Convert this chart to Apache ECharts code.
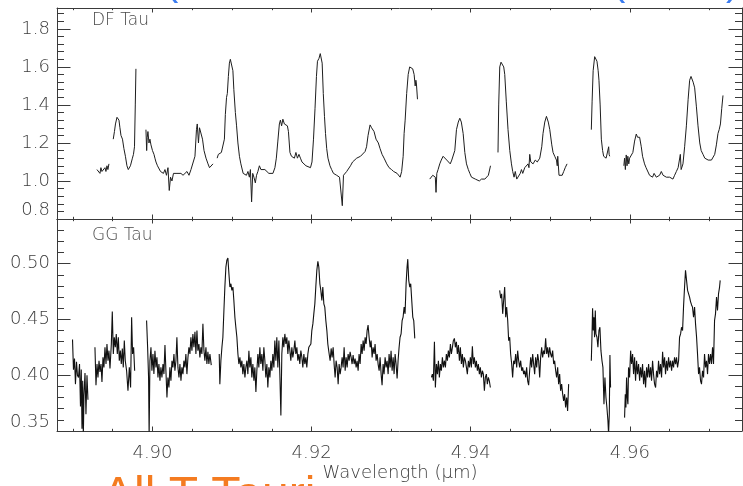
<!DOCTYPE html>
<html><head><meta charset="utf-8">
<script src="https://cdn.jsdelivr.net/npm/echarts@6/dist/echarts.min.js"></script>
<style>html,body{margin:0;padding:0;background:#fff}#c{width:743px;height:486px}</style>
</head><body><div id="c"></div>
<script>
// ---- axis ranges and tick values ----
const X_MIN = 4.888, X_MAX = 4.9741;
const X_MAJOR = [4.90, 4.92, 4.94, 4.96];
const X_MINOR = [4.89, 4.895, 4.905, 4.91, 4.915, 4.925, 4.93, 4.935, 4.945, 4.95, 4.955, 4.965, 4.97];
const TOP_MIN = 0.8, TOP_MAX = 1.91;
const TOP_MAJOR = [0.8, 1.0, 1.2, 1.4, 1.6, 1.8];
const TOP_MINOR = [0.84,0.88,0.92,0.96,1.04,1.08,1.12,1.16,1.24,1.28,1.32,1.36,1.44,1.48,1.52,1.56,1.64,1.68,1.72,1.76,1.84,1.88];
const BOT_MIN = 0.35, BOT_MAX = 0.54;
const BOT_MAJOR = [0.35, 0.40, 0.45, 0.50];
const BOT_MINOR = [0.36,0.37,0.38,0.39,0.41,0.42,0.43,0.44,0.46,0.47,0.48,0.49,0.51,0.52,0.53];

// ---- DF Tau spectrum segments [wavelength (um), flux] ----
const dfSeg1 = [[4.89302,1.06],[4.89315,1.05],[4.89327,1.07],[4.8934,1.04],[4.89352,1.07],[4.89365,1.05],[4.89377,1.06],[4.8939,1.04],[4.89403,1.07],[4.89415,1.05],[4.89428,1.08],[4.8944,1.06],[4.89453,1.09]];
const dfSeg2 = [[4.89507,1.22],[4.89522,1.26],[4.89535,1.30],[4.89554,1.335],[4.89566,1.34],[4.89579,1.32],[4.89591,1.28],[4.89604,1.24],[4.89623,1.22],[4.89641,1.17],[4.8966,1.13],[4.89679,1.08],[4.89696,1.06],[4.89711,1.05],[4.89723,1.08],[4.89736,1.07],[4.89748,1.12],[4.89761,1.14],[4.89774,1.18],[4.89784,1.40],[4.89792,1.59]];
const dfSeg3 = [[4.89918,1.27],[4.89927,1.16],[4.89934,1.23],[4.89943,1.26],[4.89956,1.20],[4.89968,1.22],[4.89981,1.19],[4.9,1.16],[4.90019,1.14],[4.90031,1.12],[4.90044,1.10],[4.90063,1.08],[4.90082,1.07],[4.90101,1.05],[4.90119,1.05],[4.90138,1.04],[4.90157,1.06],[4.90176,1.03],[4.90195,1.07],[4.90211,0.95],[4.90227,1.02],[4.90245,1.00],[4.90264,1.04],[4.90283,1.03],[4.90308,1.04],[4.90333,1.03],[4.90358,1.04],[4.90384,1.03],[4.90409,1.04],[4.90434,1.05],[4.90459,1.03],[4.90484,1.06],[4.90509,1.05],[4.90534,1.13],[4.90553,1.27],[4.90563,1.30],[4.90578,1.20],[4.90591,1.28],[4.9061,1.27],[4.90629,1.22],[4.90648,1.16],[4.90673,1.12],[4.90698,1.09],[4.90717,1.07],[4.90732,1.08],[4.90742,1.06],[4.90761,1.09]];
const dfSeg4 = [[4.90813,1.12],[4.90828,1.14],[4.90847,1.13],[4.90866,1.15],[4.90889,1.16],[4.90904,1.22],[4.90916,1.35],[4.90931,1.44],[4.90941,1.46],[4.90954,1.55],[4.90967,1.62],[4.90979,1.64],[4.90998,1.635],[4.91011,1.58],[4.91023,1.48],[4.91042,1.36],[4.91057,1.29],[4.91074,1.20],[4.91093,1.13],[4.91111,1.09],[4.9114,1.04],[4.91162,1.05],[4.91181,1.03],[4.912,1.05],[4.91218,1.02],[4.91231,1.06],[4.91246,0.89],[4.9126,1.04],[4.91275,1.02],[4.91293,0.99],[4.91308,1.03],[4.91325,1.05],[4.91344,1.08],[4.91363,1.06],[4.91388,1.05],[4.91413,1.06],[4.91438,1.05],[4.91463,1.04],[4.91488,1.05],[4.91514,1.04],[4.91539,1.07],[4.91557,1.12],[4.91576,1.21],[4.91595,1.30],[4.91608,1.32],[4.91623,1.29],[4.91639,1.325],[4.91658,1.30],[4.91677,1.31],[4.91696,1.29],[4.91709,1.26],[4.91728,1.15],[4.91747,1.13],[4.91765,1.14],[4.91784,1.12],[4.91803,1.15],[4.91822,1.12],[4.91841,1.14],[4.9186,1.12],[4.91879,1.10],[4.91904,1.09],[4.91929,1.08],[4.91954,1.07],[4.91986,1.07],[4.92005,1.10],[4.92024,1.22],[4.92043,1.38],[4.92061,1.55],[4.92074,1.63],[4.92093,1.645],[4.92109,1.67],[4.92121,1.675],[4.92133,1.62],[4.92147,1.46],[4.92162,1.34],[4.92175,1.25],[4.9219,1.17],[4.92206,1.12],[4.92231,1.08],[4.92252,1.06],[4.92275,1.04],[4.92294,1.05],[4.92315,1.03],[4.92332,1.04],[4.92351,1.02],[4.9237,1.03],[4.92386,0.87],[4.92401,1.03],[4.9242,1.02],[4.92441,1.05],[4.92464,1.06],[4.92489,1.08],[4.92515,1.10],[4.9254,1.09],[4.92567,1.12],[4.9259,1.11],[4.92615,1.13],[4.9264,1.14],[4.92672,1.155],[4.92691,1.18],[4.9271,1.24],[4.92735,1.295],[4.92754,1.28],[4.92769,1.29],[4.92785,1.26],[4.9281,1.22],[4.92839,1.20],[4.92861,1.17],[4.92886,1.14],[4.92911,1.12],[4.92945,1.09],[4.92974,1.07],[4.93005,1.06],[4.93031,1.05],[4.9305,1.05],[4.93075,1.04],[4.93094,1.03],[4.93113,1.02],[4.93132,1.05],[4.93151,1.13],[4.93163,1.25],[4.93176,1.32],[4.93195,1.46],[4.93214,1.56],[4.93233,1.60],[4.93251,1.61],[4.93271,1.59],[4.93289,1.56],[4.93302,1.50],[4.93311,1.53],[4.93318,1.51],[4.93331,1.43]];
const dfSeg5 = [[4.93485,1.01],[4.93504,1.00],[4.93523,1.03],[4.93542,1.04],[4.93555,1.02],[4.93564,0.94],[4.93574,1.04],[4.9359,1.06],[4.93611,1.09],[4.9363,1.11],[4.93653,1.13],[4.93674,1.12],[4.93699,1.11],[4.93724,1.10],[4.93743,1.09],[4.93762,1.11],[4.93781,1.10],[4.938,1.16],[4.93821,1.27],[4.93844,1.31],[4.93863,1.33],[4.93882,1.31],[4.93905,1.25],[4.93926,1.15],[4.93947,1.09],[4.9397,1.06],[4.93989,1.04],[4.9401,1.02],[4.94033,1.03],[4.94058,1.01],[4.94083,1.02],[4.94108,1.00],[4.94136,1.01],[4.94159,1.00],[4.94178,1.01],[4.94199,1.02],[4.94222,1.03],[4.94234,1.04],[4.94249,1.08]];
const dfSeg6 = [[4.94343,1.15],[4.94352,1.40],[4.94365,1.60],[4.94381,1.625],[4.94399,1.633],[4.94415,1.60],[4.94428,1.56],[4.94447,1.42],[4.94469,1.27],[4.94491,1.16],[4.94512,1.09],[4.94528,1.05],[4.94545,1.02],[4.9456,1.05],[4.94579,1.01],[4.94604,1.00],[4.94623,1.04],[4.94638,1.06],[4.94654,1.04],[4.94679,1.07],[4.94704,1.06],[4.94721,1.09],[4.94732,1.07],[4.94742,1.14],[4.94755,1.10],[4.94784,1.09],[4.94811,1.11],[4.94837,1.10],[4.94868,1.12],[4.94893,1.18],[4.94909,1.25],[4.94931,1.31],[4.94952,1.34],[4.94975,1.31],[4.94994,1.27],[4.95019,1.19],[4.95035,1.15],[4.95056,1.13],[4.95078,1.11],[4.95088,1.08],[4.95094,1.13],[4.9511,1.03],[4.95132,1.04],[4.9515,1.03],[4.95169,1.05],[4.95188,1.07],[4.95211,1.09]];
const dfSeg7 = [[4.95516,1.27],[4.95526,1.42],[4.95539,1.58],[4.95558,1.654],[4.95574,1.645],[4.95587,1.63],[4.95602,1.58],[4.95612,1.53],[4.95627,1.40],[4.95642,1.22],[4.95658,1.16],[4.95671,1.13],[4.95684,1.12],[4.95702,1.12],[4.95715,1.13],[4.95725,1.12],[4.95734,1.18],[4.9574,1.14],[4.95747,1.13]];
const dfSeg8 = [[4.95925,1.08],[4.95934,1.12],[4.95944,1.06],[4.95955,1.137],[4.95965,1.08],[4.95975,1.13],[4.95987,1.09],[4.95997,1.12],[4.96016,1.13],[4.96038,1.15],[4.9606,1.21],[4.96081,1.247],[4.96097,1.23],[4.9611,1.24],[4.96123,1.23],[4.96144,1.18],[4.9616,1.13],[4.96185,1.09],[4.96204,1.07],[4.96227,1.06],[4.96248,1.03],[4.96267,1.04],[4.96286,1.02],[4.96305,1.04],[4.96333,1.02],[4.96355,1.03],[4.96374,1.03],[4.96396,1.05],[4.96418,1.03],[4.96437,1.04],[4.96459,1.02],[4.96481,1.03],[4.965,1.02],[4.96522,1.03],[4.96542,1.01],[4.96563,1.03],[4.96585,1.05],[4.96607,1.07],[4.96626,1.075],[4.96635,1.14],[4.96645,1.06],[4.96668,1.09],[4.96689,1.18],[4.96711,1.29],[4.96733,1.43],[4.96752,1.53],[4.96769,1.55],[4.96781,1.56],[4.96796,1.52],[4.96815,1.49],[4.96837,1.39],[4.96857,1.29],[4.96879,1.20],[4.96897,1.16],[4.9692,1.14],[4.96942,1.12],[4.96963,1.13],[4.96985,1.11],[4.97004,1.12],[4.97026,1.11],[4.97048,1.12],[4.97067,1.14],[4.97088,1.19],[4.97108,1.25],[4.97123,1.27],[4.97139,1.30],[4.97155,1.38],[4.97171,1.45]];

// ---- GG Tau spectrum segments [wavelength (um), flux] ----
const ggSeg1 = [[4.88995,0.432],[4.89007,0.405],[4.8902,0.415],[4.89032,0.392],[4.89045,0.412],[4.89057,0.400],[4.8907,0.398],[4.89083,0.410],[4.89095,0.372],[4.89105,0.405],[4.89114,0.352],[4.89123,0.395],[4.89131,0.345],[4.89139,0.382],[4.89152,0.402],[4.89164,0.365],[4.89177,0.400],[4.89189,0.378]];
const ggSeg2 = [[4.89277,0.425],[4.8929,0.391],[4.89303,0.410],[4.89315,0.398],[4.89328,0.413],[4.8934,0.403],[4.89353,0.410],[4.89365,0.394],[4.89378,0.416],[4.8939,0.407],[4.89403,0.425],[4.89416,0.410],[4.89428,0.428],[4.89441,0.413],[4.89453,0.422],[4.89466,0.406],[4.89483,0.428],[4.89495,0.457],[4.89508,0.419],[4.8952,0.434],[4.89533,0.425],[4.89545,0.437],[4.89558,0.419],[4.89571,0.434],[4.89583,0.413],[4.89596,0.422],[4.89608,0.410],[4.89621,0.424],[4.89633,0.407],[4.89646,0.431],[4.89658,0.413],[4.89675,0.404],[4.89692,0.386],[4.89709,0.407],[4.89725,0.389],[4.89738,0.452],[4.8975,0.419],[4.89763,0.425],[4.89776,0.404]];
const ggSeg3 = [[4.89926,0.449],[4.89939,0.425],[4.89951,0.398],[4.89958,0.345],[4.89968,0.413],[4.89981,0.425],[4.89993,0.404],[4.90006,0.419],[4.90018,0.401],[4.90031,0.422],[4.90044,0.407],[4.90056,0.416],[4.90069,0.398],[4.90081,0.410],[4.90094,0.395],[4.90106,0.407],[4.90119,0.398],[4.90132,0.410],[4.90144,0.401],[4.90157,0.427],[4.90169,0.404],[4.90182,0.380],[4.90194,0.398],[4.90207,0.389],[4.90219,0.407],[4.90232,0.395],[4.90245,0.413],[4.90257,0.407],[4.9027,0.419],[4.90282,0.404],[4.90295,0.413],[4.90307,0.434],[4.9032,0.407],[4.90333,0.398],[4.90345,0.410],[4.90358,0.395],[4.9037,0.407],[4.90383,0.401],[4.90395,0.413],[4.90408,0.407],[4.9042,0.419],[4.90433,0.401],[4.90446,0.416],[4.90458,0.425],[4.90471,0.419],[4.90483,0.434],[4.90496,0.422],[4.90508,0.437],[4.90521,0.425],[4.90534,0.439],[4.90546,0.419],[4.90559,0.440],[4.90571,0.422],[4.90584,0.428],[4.90596,0.416],[4.90609,0.425],[4.90621,0.419],[4.90634,0.446],[4.90647,0.422],[4.90659,0.413],[4.90672,0.425],[4.90684,0.410],[4.90697,0.421],[4.90709,0.410],[4.90722,0.419],[4.90739,0.409]];
const ggSeg4 = [[4.90839,0.419],[4.90847,0.392],[4.9086,0.413],[4.90873,0.425],[4.90885,0.434],[4.90898,0.458],[4.9091,0.479],[4.90923,0.497],[4.90935,0.503],[4.90948,0.505],[4.90961,0.491],[4.90973,0.479],[4.90986,0.482],[4.90998,0.476],[4.91011,0.479],[4.91023,0.467],[4.91036,0.452],[4.91048,0.443],[4.91061,0.434],[4.91074,0.419],[4.91086,0.410],[4.91099,0.416],[4.91111,0.407],[4.91124,0.413],[4.91136,0.401],[4.91149,0.410],[4.91162,0.398],[4.91174,0.407],[4.91187,0.413],[4.91199,0.401],[4.91212,0.422],[4.91224,0.407],[4.91237,0.416],[4.91249,0.398],[4.91262,0.410],[4.91275,0.395],[4.91287,0.407],[4.913,0.385],[4.91312,0.404],[4.91325,0.419],[4.91337,0.407],[4.9135,0.425],[4.91362,0.410],[4.91375,0.419],[4.91388,0.404],[4.914,0.425],[4.91413,0.413],[4.91425,0.398],[4.91438,0.410],[4.9145,0.389],[4.91463,0.407],[4.91476,0.398],[4.91488,0.413],[4.91501,0.404],[4.91513,0.419],[4.91526,0.407],[4.91538,0.431],[4.91551,0.413],[4.91563,0.434],[4.91576,0.407],[4.91589,0.431],[4.91601,0.401],[4.91614,0.364],[4.91626,0.419],[4.91639,0.434],[4.91651,0.425],[4.91664,0.437],[4.91677,0.428],[4.91689,0.434],[4.91702,0.419],[4.91714,0.431],[4.91727,0.422],[4.91739,0.413],[4.91752,0.425],[4.91764,0.416],[4.91777,0.422],[4.9179,0.431],[4.91802,0.419],[4.91815,0.425],[4.91827,0.413],[4.9184,0.419],[4.91852,0.410],[4.91865,0.422],[4.91878,0.416],[4.9189,0.407],[4.91903,0.419],[4.91915,0.410],[4.91928,0.416],[4.9194,0.407],[4.91953,0.419],[4.91965,0.425],[4.91978,0.424],[4.91991,0.428],[4.92003,0.440],[4.92016,0.446],[4.92028,0.455],[4.92041,0.464],[4.92053,0.479],[4.92066,0.494],[4.92079,0.502],[4.92091,0.497],[4.92104,0.482],[4.92116,0.476],[4.92129,0.467],[4.92141,0.479],[4.92154,0.464],[4.92166,0.461],[4.92179,0.449],[4.92192,0.440],[4.92204,0.428],[4.92217,0.421],[4.92233,0.413],[4.92246,0.424],[4.92258,0.416],[4.92271,0.425],[4.92283,0.410],[4.92296,0.398],[4.92308,0.413],[4.92321,0.407],[4.92334,0.392],[4.92346,0.410],[4.92359,0.401],[4.92371,0.407],[4.92384,0.416],[4.92396,0.407],[4.92409,0.425],[4.92422,0.404],[4.92434,0.416],[4.92447,0.407],[4.92459,0.419],[4.92472,0.413],[4.92484,0.421],[4.92497,0.416],[4.92509,0.410],[4.92522,0.418],[4.92535,0.410],[4.92547,0.415],[4.9256,0.407],[4.92572,0.413],[4.92585,0.404],[4.92597,0.419],[4.9261,0.410],[4.92623,0.428],[4.92635,0.419],[4.92648,0.431],[4.9266,0.422],[4.92673,0.434],[4.92685,0.428],[4.92698,0.440],[4.9271,0.445],[4.92723,0.434],[4.92736,0.425],[4.92748,0.431],[4.92761,0.416],[4.92773,0.425],[4.92786,0.419],[4.92798,0.428],[4.92811,0.413],[4.92824,0.419],[4.92836,0.410],[4.92849,0.404],[4.92861,0.416],[4.92874,0.401],[4.92886,0.391],[4.92899,0.410],[4.92911,0.401],[4.92924,0.416],[4.92937,0.407],[4.92949,0.413],[4.92962,0.401],[4.92974,0.419],[4.92987,0.407],[4.92999,0.422],[4.93012,0.404],[4.93025,0.416],[4.93037,0.401],[4.9305,0.419],[4.93062,0.410],[4.93075,0.397],[4.93087,0.413],[4.931,0.425],[4.93112,0.434],[4.93125,0.437],[4.93138,0.449],[4.9315,0.452],[4.93163,0.461],[4.93175,0.455],[4.93188,0.482],[4.932,0.497],[4.93209,0.504],[4.93221,0.485],[4.93234,0.479],[4.93246,0.482],[4.93259,0.467],[4.93272,0.452],[4.93284,0.449],[4.93297,0.433]];
const ggSeg5 = [[4.93506,0.398],[4.93518,0.401],[4.93531,0.395],[4.93544,0.430],[4.93556,0.389],[4.93569,0.410],[4.93581,0.401],[4.93594,0.413],[4.93606,0.398],[4.93619,0.410],[4.93631,0.404],[4.93644,0.416],[4.93657,0.407],[4.93669,0.413],[4.93682,0.407],[4.93694,0.419],[4.93707,0.413],[4.93719,0.422],[4.93732,0.416],[4.93745,0.428],[4.93757,0.419],[4.9377,0.425],[4.93782,0.431],[4.93795,0.433],[4.93807,0.425],[4.9382,0.430],[4.93832,0.419],[4.93845,0.427],[4.93858,0.413],[4.9387,0.425],[4.93883,0.410],[4.93895,0.419],[4.93908,0.407],[4.9392,0.416],[4.93933,0.413],[4.93946,0.407],[4.93958,0.401],[4.93971,0.413],[4.93983,0.407],[4.93996,0.416],[4.94008,0.407],[4.94021,0.426],[4.94033,0.410],[4.94046,0.416],[4.94059,0.407],[4.94071,0.413],[4.94084,0.404],[4.94096,0.410],[4.94109,0.401],[4.94121,0.407],[4.94134,0.398],[4.94147,0.404],[4.94159,0.401],[4.94172,0.386],[4.94184,0.398],[4.94197,0.401],[4.94209,0.392],[4.94222,0.398],[4.94234,0.395],[4.94247,0.389]];
const ggSeg6 = [[4.94364,0.476],[4.94377,0.469],[4.94389,0.473],[4.94402,0.455],[4.94414,0.467],[4.94427,0.479],[4.9444,0.452],[4.94452,0.461],[4.94465,0.449],[4.94477,0.431],[4.9449,0.434],[4.94502,0.419],[4.94515,0.410],[4.94527,0.398],[4.9454,0.413],[4.94553,0.410],[4.94565,0.419],[4.94578,0.407],[4.9459,0.422],[4.94603,0.413],[4.94615,0.407],[4.94628,0.413],[4.94641,0.404],[4.94653,0.407],[4.94666,0.401],[4.94678,0.404],[4.94691,0.398],[4.94703,0.407],[4.94716,0.395],[4.94728,0.391],[4.94741,0.404],[4.94754,0.416],[4.94766,0.407],[4.94779,0.419],[4.94791,0.410],[4.94804,0.401],[4.94816,0.416],[4.94829,0.407],[4.94842,0.419],[4.94854,0.413],[4.94867,0.398],[4.94879,0.416],[4.94892,0.425],[4.94904,0.416],[4.94917,0.422],[4.94929,0.419],[4.94942,0.433],[4.94955,0.419],[4.94967,0.425],[4.9498,0.416],[4.94992,0.425],[4.95005,0.419],[4.95017,0.416],[4.9503,0.422],[4.95043,0.410],[4.95055,0.413],[4.95068,0.404],[4.9508,0.398],[4.95093,0.407],[4.95105,0.392],[4.95118,0.401],[4.9513,0.386],[4.95143,0.392],[4.95156,0.383],[4.95168,0.377],[4.95181,0.383],[4.95193,0.371],[4.95206,0.380],[4.95218,0.368],[4.95231,0.392]];
const ggSeg7 = [[4.95516,0.413],[4.95524,0.434],[4.95532,0.460],[4.95541,0.440],[4.95549,0.452],[4.95557,0.434],[4.95566,0.458],[4.95574,0.437],[4.95587,0.434],[4.95599,0.425],[4.95612,0.440],[4.95624,0.443],[4.95637,0.422],[4.9565,0.413],[4.95662,0.407],[4.95675,0.374],[4.95687,0.398],[4.957,0.380],[4.95712,0.371],[4.95725,0.359],[4.95733,0.347],[4.95742,0.365],[4.9575,0.418],[4.95758,0.389]];
const ggSeg8 = [[4.95934,0.362],[4.95943,0.383],[4.95951,0.371],[4.95959,0.398],[4.95968,0.380],[4.95976,0.374],[4.95984,0.407],[4.95997,0.398],[4.9601,0.422],[4.96022,0.410],[4.96035,0.419],[4.96047,0.401],[4.9606,0.416],[4.96072,0.395],[4.96085,0.413],[4.96097,0.401],[4.9611,0.410],[4.96123,0.395],[4.96135,0.407],[4.96148,0.398],[4.9616,0.410],[4.96173,0.392],[4.96185,0.404],[4.96198,0.389],[4.96211,0.407],[4.96223,0.398],[4.96236,0.410],[4.96248,0.398],[4.96261,0.407],[4.96273,0.395],[4.96286,0.413],[4.96298,0.401],[4.96311,0.392],[4.96324,0.389],[4.96336,0.404],[4.96349,0.398],[4.96361,0.413],[4.96374,0.401],[4.96386,0.410],[4.96399,0.398],[4.96412,0.421],[4.96424,0.407],[4.96437,0.416],[4.96449,0.401],[4.96462,0.413],[4.96474,0.404],[4.96487,0.416],[4.96499,0.407],[4.96512,0.413],[4.96525,0.404],[4.96537,0.413],[4.9655,0.407],[4.96562,0.416],[4.96575,0.410],[4.96587,0.416],[4.966,0.407],[4.96613,0.413],[4.96625,0.434],[4.96638,0.437],[4.9665,0.443],[4.96663,0.440],[4.96675,0.461],[4.96688,0.479],[4.967,0.494],[4.96713,0.485],[4.96726,0.476],[4.96738,0.475],[4.96751,0.470],[4.96763,0.466],[4.96776,0.463],[4.96788,0.461],[4.96801,0.452],[4.96814,0.461],[4.96826,0.446],[4.96839,0.434],[4.96851,0.419],[4.96864,0.401],[4.96876,0.407],[4.96889,0.395],[4.96901,0.392],[4.96914,0.404],[4.96927,0.398],[4.96939,0.419],[4.96952,0.407],[4.96964,0.413],[4.96977,0.401],[4.96989,0.419],[4.97002,0.410],[4.97015,0.419],[4.97027,0.410],[4.9704,0.425],[4.97052,0.410],[4.97065,0.449],[4.97077,0.455],[4.9709,0.470],[4.97102,0.458],[4.97115,0.473],[4.97128,0.479],[4.97136,0.485]];

const dfSegments = [dfSeg1, dfSeg2, dfSeg3, dfSeg4, dfSeg5, dfSeg6, dfSeg7, dfSeg8];
const ggSegments = [ggSeg1, ggSeg2, ggSeg3, ggSeg4, ggSeg5, ggSeg6, ggSeg7, ggSeg8];

// ---- chart ----
const AX = '#3a3a3a', TXT = '#3c3c3c';
const FONT = 'DejaVu Sans';
const grids = [
  {left: 57, right: 1, top: 8, height: 211},
  {left: 57, right: 1, top: 219, height: 212}
];
const xAxes = [], yAxes = [];
function xAx(g, pos, ticks, len, line, labels) {
  xAxes.push({
    type: 'value', gridIndex: g, position: pos, min: X_MIN, max: X_MAX,
    axisLine: {show: line, onZero: false, lineStyle: {color: AX, width: 1}},
    axisTick: {show: true, inside: true, length: len, customValues: ticks, lineStyle: {color: AX, width: 1}},
    axisLabel: labels ? {show: true, customValues: X_MAJOR, formatter: v => v.toFixed(2),
      color: TXT, fontSize: 18, fontFamily: FONT, fontWeight: 200, margin: 13} : {show: false},
    splitLine: {show: false}
  });
}
function yAx(g, pos, min, max, ticks, len, line, labels, majors, dec) {
  yAxes.push({
    type: 'value', gridIndex: g, position: pos, min: min, max: max,
    axisLine: {show: line, onZero: false, lineStyle: {color: AX, width: 1}},
    axisTick: {show: true, inside: true, length: len, customValues: ticks, lineStyle: {color: AX, width: 1}},
    axisLabel: labels ? {show: true, customValues: majors, formatter: v => v.toFixed(dec),
      color: TXT, fontSize: 18, fontFamily: FONT, fontWeight: 200, margin: 7, verticalAlignMinLabel: 'bottom'} : {show: false},
    splitLine: {show: false}
  });
}
// top panel
xAx(0, 'bottom', X_MAJOR, 4.5, true, false);
xAx(0, 'bottom', X_MINOR, 2.2, false, false);
xAx(0, 'top', X_MAJOR, 4.5, true, false);
xAx(0, 'top', X_MINOR, 2.2, false, false);
// bottom panel
xAx(1, 'bottom', X_MAJOR, 4.5, true, true);
xAx(1, 'bottom', X_MINOR, 2.2, false, false);
xAx(1, 'top', X_MAJOR, 4.5, true, false);
xAx(1, 'top', X_MINOR, 2.2, false, false);

yAx(0, 'left', TOP_MIN, TOP_MAX, TOP_MAJOR, 13.5, true, true, TOP_MAJOR, 1);
yAx(0, 'left', TOP_MIN, TOP_MAX, TOP_MINOR, 7, false, false);
yAx(0, 'right', TOP_MIN, TOP_MAX, TOP_MAJOR, 13.5, true, false);
yAx(0, 'right', TOP_MIN, TOP_MAX, TOP_MINOR, 7, false, false);
yAx(1, 'left', BOT_MIN, BOT_MAX, BOT_MAJOR, 13.5, true, true, BOT_MAJOR, 2);
yAx(1, 'left', BOT_MIN, BOT_MAX, BOT_MINOR, 7, false, false);
yAx(1, 'right', BOT_MIN, BOT_MAX, BOT_MAJOR, 13.5, true, false);
yAx(1, 'right', BOT_MIN, BOT_MAX, BOT_MINOR, 7, false, false);

const series = [];
dfSegments.forEach(seg => series.push({
  type: 'line', xAxisIndex: 0, yAxisIndex: 0, data: seg, symbol: 'none', showSymbol: false,
  lineStyle: {color: '#1e1e1e', width: 1}, silent: true, clip: true
}));
ggSegments.forEach(seg => series.push({
  type: 'line', xAxisIndex: 4, yAxisIndex: 4, data: seg, symbol: 'none', showSymbol: false,
  lineStyle: {color: '#111', width: 1.1}, silent: true, clip: true
}));

const chart = echarts.init(document.getElementById('c'), null, {renderer: 'canvas'});
chart.setOption({
  animation: false,
  backgroundColor: '#fff',
  grid: grids,
  xAxis: xAxes,
  yAxis: yAxes,
  series: series,
  graphic: [
    {type: 'text', x: 92, y: 21, style: {text: 'DF Tau', font: '200 17px "DejaVu Sans"', fill: '#4a4a4a', verticalAlign: 'middle'}},
    {type: 'text', x: 92, y: 236, style: {text: 'GG Tau', font: '200 17px "DejaVu Sans"', fill: '#4a4a4a', verticalAlign: 'middle'}},
    {type: 'text', x: 400, y: 473, style: {text: 'Wavelength (μm)', font: '200 18px "DejaVu Sans"', fill: TXT, align: 'center', verticalAlign: 'middle'}},
    {type: 'text', x: 102, y: 497, z: -1, style: {text: 'All T Tauri', font: '48px "Liberation Sans"', fill: '#f47b20', verticalAlign: 'middle'}},
    {type: 'text', x: 165, y: -16, style: {text: '(', font: '40px "Liberation Sans"', fill: '#3b7cf0', verticalAlign: 'middle'}},
    {type: 'text', x: 612, y: -16, style: {text: '(', font: '40px "Liberation Sans"', fill: '#3b7cf0', verticalAlign: 'middle'}},
    {type: 'text', x: 726, y: -16, style: {text: ')', font: '40px "Liberation Sans"', fill: '#3b7cf0', verticalAlign: 'middle'}}
  ]
});
</script>
</body></html>
